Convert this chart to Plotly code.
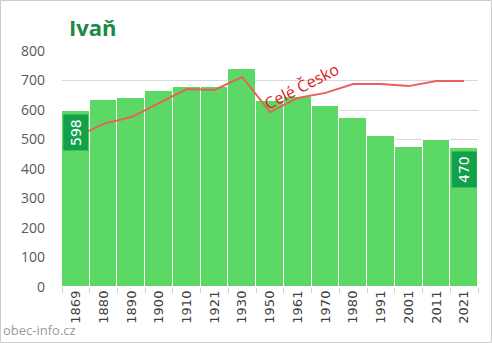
import plotly.graph_objects as go

years = ["1869", "1880", "1890", "1900", "1910", "1921", "1930", "1950",
         "1961", "1970", "1980", "1991", "2001", "2011", "2021"]
population = [598, 634, 641, 664, 679, 679, 739, 631, 643, 615, 574, 513, 476, 497, 470]
czech_scaled = [508, 553, 576, 624, 671, 668, 712, 593, 641, 658, 688, 688, 681, 698, 698]
y_ticks = [0, 100, 200, 300, 400, 500, 600, 700, 800]

W, H = 492, 343
ML, MR, MT, MB = 62, 14, 51, 56
PW, PH = W - ML - MR, H - MT - MB

xi = list(range(len(years)))

fig = go.Figure()
fig.add_trace(go.Bar(
    x=xi, y=population, width=1,
    marker=dict(color="#5cd965", line=dict(color="#ffffff", width=1)),
    hoverinfo="skip",
))
fig.add_trace(go.Scatter(
    x=xi, y=czech_scaled, mode="lines",
    line=dict(color="#e8605a", width=2),
    hoverinfo="skip",
))

font = "Open Sans, DejaVu Sans, sans-serif"
dfont = "DejaVu Sans, sans-serif"

for idx in (0, len(years) - 1):
    fig.add_annotation(
        x=xi[idx], y=population[idx], yanchor="top", xanchor="center",
        yshift=-3, text=str(population[idx]), textangle=-90,
        showarrow=False, bgcolor="#12a04a", borderpad=4,
        font=dict(color="white", size=14, family=dfont),
    )

fig.add_annotation(
    x=8.15, y=682, text="Celé Česko", textangle=-27, showarrow=False,
    font=dict(color="#d91c1c", size=16, family=font),
)

fig.add_annotation(
    xref="paper", yref="paper", x=-(ML - 1) / PW, y=-(MB - 2) / PH,
    xanchor="left", yanchor="bottom", text="obec-info.cz", showarrow=False,
    font=dict(color="#9a9a9a", size=13, family=font),
)

fig.add_annotation(
    xref="paper", yref="paper", x=(67 - ML) / PW, y=1 + (MT - 27) / PH,
    xanchor="left", yanchor="middle", text="<b>Ivaň</b>", showarrow=False,
    font=dict(color="#1a8a46", size=22, family=font),
)

fig.add_shape(
    type="rect", xref="paper", yref="paper",
    x0=-(ML - 0.5) / PW, x1=1 + (MR - 0.5) / PW,
    y0=-(MB - 0.5) / PH, y1=1 + (MT - 0.5) / PH,
    line=dict(color="#cccccc", width=1), fillcolor="rgba(0,0,0,0)",
)

fig.update_layout(
    width=W, height=H,
    margin=dict(l=ML, r=MR, t=MT, b=MB),
    paper_bgcolor="white", plot_bgcolor="white",
    showlegend=False, bargap=0,
    font=dict(family=font, color="#595959"),
    xaxis=dict(
        range=[-0.5, len(years) - 0.5],
        tickvals=xi, ticktext=years, tickangle=-90,
        ticks="", ticklen=0,
        minor=dict(tick0=-0.5, dtick=1, ticks="outside", ticklen=5,
                   tickcolor="#d0d0d0", showgrid=False),
        tickfont=dict(size=13, color="#404040", family=dfont),
        showgrid=False, showline=False, zeroline=False,
    ),
    yaxis=dict(
        range=[0, 800], tickvals=y_ticks,
        showgrid=True, gridcolor="#d9d9d9", gridwidth=1,
        zeroline=False, showline=False,
        tickfont=dict(size=14, color="#595959"), ticklabelstandoff=16,
    ),
)

fig.write_html("out.html")
